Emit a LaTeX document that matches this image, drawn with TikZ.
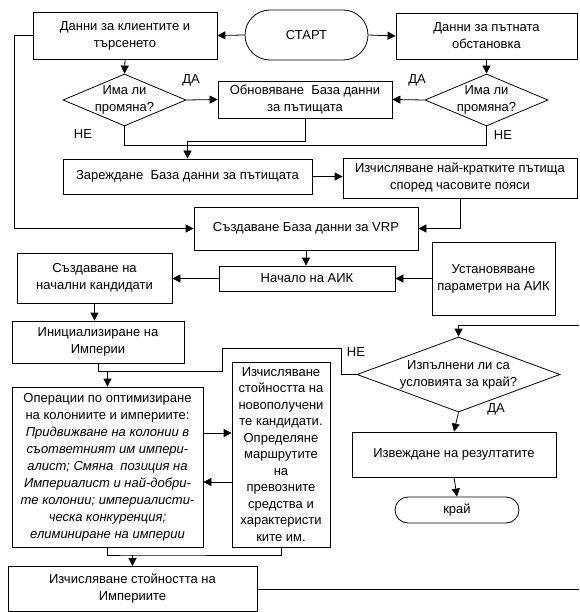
\documentclass[tikz,border=0pt]{standalone}
\usepackage{fontspec}
\setmainfont{Liberation Sans}
\usetikzlibrary{arrows.meta,shapes.geometric}

\begin{document}
\begin{tikzpicture}[x=1pt,y=-1pt,
  font=\fontsize{13}{17}\selectfont,
  line/.style={draw=black, line width=0.8pt},
  arr/.style={line, -{Triangle[length=8pt,width=8pt]}},
  box/.style={rectangle, draw=black, line width=0.8pt, inner sep=0pt, align=center},
  term/.style={box},
  dia/.style={diamond, draw=black, line width=0.8pt, inner sep=0pt},
  lbl/.style={inner sep=0pt, align=center}
]
\fill[white] (0,0) rectangle (579,612);
\useasboundingbox (0,0) rectangle (579,612);

% --- data collection ---
\node[box, minimum width=184, minimum height=47] (cli) at (125,35.5) {Данни за клиентите и\\търсенето};
\node[term, rounded corners=25pt, minimum width=123, minimum height=50] (start) at (306.5,35) {СТАРТ};
\node[box, minimum width=181, minimum height=46] (road) at (486.5,36) {Данни за пътната\\обстановка};

\node[dia, minimum width=123, minimum height=52] (d1) at (124.5,100) {};
\node[lbl] (d1t) at (d1) {Има ли\\промяна?};
\node[box, minimum width=174, minimum height=37] (upd) at (305,99.5) {Обновяване \ База данни\\за пътищата};
\node[dia, minimum width=123, minimum height=52] (d2) at (486.5,100) {};
\node[lbl] (d2t) at (d2) {Има ли\\промяна?};

\node[box, minimum width=249, minimum height=35] (load) at (187.5,176.5) {Зареждане \ База данни за пътищата};
\node[box, minimum width=234, minimum height=40] (short) at (460,178) {Изчисляване най-кратките пътища\\според часовите пояси};
\node[box, minimum width=224, minimum height=43] (vrp) at (306,228.5) {Създаване База данни за VRP};

% --- algorithm setup ---
\node[box, minimum width=176, minimum height=25] (aik) at (307,278.5) {Начало на АИК};
\node[box, minimum width=123, minimum height=73] (par) at (493.5,278.5) {Установяване\\параметри на АИК};
\node[box, minimum width=155, minimum height=50] (cand) at (94.5,278) {Създаване на\\начални кандидати};
\node[box, minimum width=172, minimum height=42] (init) at (98,342) {Инициализиране на\\Империи};

% --- main loop ---
\node[box, minimum width=191, minimum height=160] (ops) at (107.5,467) {Операции по оптимизиране\\на колониите и империите:\\\itshape Придвижване на колонии в\\\itshape съответният им импери-\\\itshape алист; Смяна \ позиция на\\\itshape Империалист и най-добри-\\\itshape те колонии; империалисти-\\\itshape ческа конкуренция;\\\itshape елиминиране на империи};
\node[box, minimum width=98, minimum height=185, font=\fontsize{13}{16.5}\selectfont] (mid) at (281,454.5) {Изчисляване\\стойността на\\новополучени\\те кандидати.\\Определяне\\маршрутите\\на\\превозните\\средства и\\характеристи\\ките им.};
\node[box, minimum width=249, minimum height=45] (imp) at (132.5,589) {Изчисляване стойността на\\Империите};

\node[dia, minimum width=203, minimum height=75] (cond) at (458.5,374.5) {};
\node[lbl] (condt) at (cond) {Изпълнени ли са\\условията за край?};
\node[box, minimum width=204, minimum height=45] (res) at (454,454.5) {Извеждане на резултатите};
\node[term, rounded corners=13pt, minimum width=124, minimum height=26] (stop) at (457,510) {край};

% --- branch labels ---
\node[lbl] (ya1) at (191,80) {ДА};
\node[lbl] (no1) at (83,134) {НЕ};
\node[lbl] (ya2) at (417,80) {ДА};
\node[lbl] (no2) at (503,135) {НЕ};
\node[lbl] (no3) at (356,352) {НЕ};
\node[lbl] (ya3) at (496,409) {ДА};

% --- helper points ---
\coordinate (bendA) at (222,348);
\coordinate (joinI) at (107.5,371);
\coordinate (joinM) at (132.5,555);
\coordinate (outR) at (579,590);
\coordinate (inR) at (579,325);

% --- connectors ---
\draw[arr] (start.west) -- (cli.east);
\draw[arr] (start.east) -- (road.west);
\draw[arr] (cli.south) -- (d1.north);
\draw[arr] (road.south) -- (d2.north);
\draw[arr] (d1.east) -- (upd.west);
\draw[arr] (d2.west) -- (upd.east);
\draw[line] (d1.south) -- ++(0,19) -| (d2.south);
\draw[arr] (upd.south) -- ++(0,23) -| (load.north);
\draw[arr] (load.east) -- (load.east -| short.west);
\draw[arr] (cli.west) -- ++(-18,0) |- (vrp.west);
\draw[arr] (short.south) |- (vrp.east);
\draw[arr] (vrp.south) -- (vrp.south |- aik.north);
\draw[arr] (par.west) -- (aik.east);
\draw[arr] (aik.west) -- (aik.west -| cand.east);
\draw[arr] (cand.south) -- (cand.south |- init.north);
\draw[line] (init.south) |- (joinI);
\draw[line] (cond.west) -- ++(-15,0) |- (bendA) |- (joinI);
\draw[arr] (joinI) -- (ops.north);
\draw[arr] ([yshift=34pt]ops.east) -- ([yshift=34pt]ops.east -| mid.west);
\draw[arr] ([yshift=-15pt]ops.east -| mid.west) -- ([yshift=-15pt]ops.east);
\draw[line] (ops.south) |- (joinM) -| (mid.south);
\draw[arr] (joinM) -- (imp.north);
\draw[line] (imp.east) -- (imp.east -| outR);
\draw[arr] (inR) -| (cond.north);
\draw[arr] (cond.south) -- (res.north);
\draw[arr] (res.south) -- (stop.north);
\end{tikzpicture}
\end{document}
